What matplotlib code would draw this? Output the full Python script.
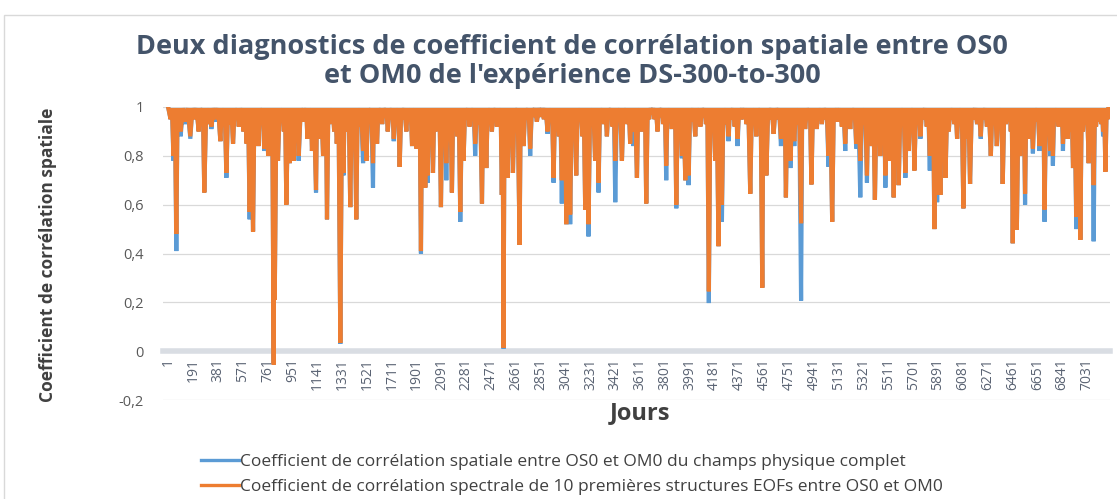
import matplotlib
matplotlib.use("Agg")
import matplotlib.pyplot as plt
from matplotlib.patches import Rectangle
from matplotlib.lines import Line2D

plt.rcParams["font.family"] = ["Open Sans", "DejaVu Sans"]

# days of the dips, with the value of each series there
dip_days = [18, 40, 62, 80, 95, 130, 169, 200, 233, 255, 276, 305, 330, 365, 399, 420, 445, 470, 496, 520,
            540, 560, 575, 600, 623, 649, 670, 690, 712, 735, 765, 785, 807, 815, 840, 865, 885, 904, 930, 945,
            960, 980, 998, 1030, 1048, 1065, 1085, 1100, 1131, 1145, 1160, 1185, 1200, 1215, 1235, 1250, 1270, 1290, 1317, 1341,
            1358, 1370, 1393, 1415, 1439, 1460, 1491, 1517, 1540, 1567, 1580, 1598, 1618, 1637, 1660, 1680, 1705, 1726, 1750, 1771,
            1795, 1822, 1845, 1866, 1880, 1899, 1915, 1934, 1950, 1967, 1985, 2005, 2026, 2045, 2065, 2087, 2105, 2128, 2150, 2171,
            2190, 2212, 2235, 2260, 2283, 2306, 2325, 2349, 2375, 2401, 2418, 2434, 2455, 2477, 2497, 2515, 2535, 2553, 2566, 2580,
            2597, 2618, 2638, 2660, 2689, 2705, 2719, 2745, 2770, 2795, 2821, 2850, 2875, 2903, 2925, 2949, 2970, 2990, 3012, 3030,
            3046, 3060, 3076, 3098, 3122, 3145, 3170, 3191, 3216, 3240, 3267, 3280, 3293, 3315, 3335, 3357, 3380, 3400, 3421, 3445,
            3472, 3495, 3515, 3535, 3560, 3587, 3605, 3624, 3640, 3658, 3680, 3701, 3722, 3744, 3770, 3790, 3811, 3830, 3854, 3870,
            3888, 3910, 3931, 3957, 3982, 4005, 4033, 4055, 4072, 4095, 4115, 4137, 4160, 4186, 4211, 4237, 4260, 4288, 4310, 4335,
            4357, 4380, 4403, 4425, 4454, 4478, 4500, 4522, 4546, 4560, 4577, 4605, 4633, 4660, 4689, 4710, 4727, 4745, 4761, 4791,
            4815, 4843, 4860, 4874, 4900, 4922, 4945, 4963, 4985, 5002, 5025, 5053, 5081, 5105, 5130, 5155, 5181, 5200, 5219, 5240,
            5265, 5296, 5320, 5347, 5365, 5385, 5408, 5430, 5449, 5470, 5488, 5510, 5526, 5552, 5570, 5590, 5615, 5641, 5667, 5690,
            5710, 5735, 5756, 5780, 5805, 5828, 5845, 5863, 5884, 5909, 5930, 5948, 5973, 5995, 6015, 6037, 6060, 6085, 6111, 6136,
            6162, 6190, 6218, 6240, 6265, 6295, 6318, 6341, 6365, 6386, 6410, 6430, 6448, 6463, 6480, 6494, 6519, 6540, 6557, 6575,
            6591, 6617, 6640, 6668, 6690, 6706, 6728, 6750, 6770, 6790, 6814, 6830, 6847, 6865, 6883, 6905, 6924, 6949, 6965, 6980,
            7000, 7020, 7044, 7062, 7082, 7100, 7121, 7140, 7154, 7172, 7190]

spectral_dips = [.95, .80, .48, .93, .90, .94, .88, .95, .90, .96, .65, .93, .92, .95, .86, .94, .73, .93, .85, .95,
                 .92, .96, .90, .85, .57, .49, .93, .84, .95, .83, .80, .94, -.055, .21, .78, .94, .90, .60, .77, .95,
                 .78, .93, .80, .94, .96, .87, .95, .82, .66, .95, .87, .80, .94, .54, .93, .95, .90, .85, .034, .73,
                 .94, .90, .59, .90, .54, .92, .82, .78, .95, .77, .93, .85, .96, .93, .96, .90, .95, .87, .94, .755,
                 .95, .90, .94, .84, .95, .83, .93, .41, .90, .67, .72, .93, .73, .90, .94, .59, .92, .77, .94, .65,
                 .93, .88, .57, .78, .95, .92, .95, .85, .93, .605, .94, .75, .95, .90, .96, .92, .95, .64, .014, .93,
                 .71, .94, .73, .95, .435, .94, .84, .95, .83, .96, .94, .96, .95, .90, .94, .71, .93, .88, .70, .90,
                 .52, .85, .56, .93, .72, .94, .88, .58, .52, .93, .78, .92, .69, .95, .93, .88, .96, .92, .78, .94,
                 .78, .95, .93, .85, .90, .71, .95, .90, .94, .605, .95, .97, .95, .90, .96, .93, .76, .94, .91, .93,
                 .60, .92, .80, .70, .72, .94, .88, .95, .92, .96, .93, .245, .92, .78, .43, .60, .93, .88, .95, .92,
                 .87, .95, .95, .93, .645, .94, .88, .95, .26, .90, .72, .95, .89, .95, .87, .93, .63, .92, .78, .86,
                 .93, .524, .93, .91, .95, .683, .93, .91, .95, .93, .95, .80, .53, .94, .94, .92, .85, .94, .91, .95,
                 .85, .78, .93, .72, .92, .84, .62, .93, .80, .94, .72, .93, .78, .63, .92, .68, .94, .73, .82, .95,
                 .74, .93, .88, .95, .92, .80, .93, .50, .64, .64, .92, .71, .90, .95, .93, .87, .94, .585, .87, .685,
                 .95, .93, .88, .95, .92, .80, .93, .84, .94, .685, .93, .94, .90, .442, .85, .497, .80, .92, .645, .93,
                 .87, .83, .94, .84, .92, .58, .93, .82, .80, .94, .92, .95, .85, .93, .87, .90, .75, .55, .85, .456,
                 .90, .93, .77, .90, .68, .92, .94, .93, .90, .735, .95]

spatial_dips = [.95, .78, .41, .93, .88, .93, .87, .95, .90, .96, .65, .93, .91, .94, .86, .94, .71, .93, .85, .95,
                .92, .96, .90, .85, .54, .49, .93, .84, .95, .82, .80, .94, -.055, .21, .78, .94, .90, .60, .77, .95,
                .78, .93, .78, .94, .96, .87, .95, .82, .65, .95, .87, .80, .94, .54, .93, .95, .90, .85, .03, .72,
                .94, .90, .59, .90, .54, .92, .77, .78, .95, .67, .93, .85, .96, .93, .96, .90, .95, .86, .94, .755,
                .95, .90, .94, .84, .95, .83, .93, .40, .90, .67, .69, .93, .73, .90, .94, .59, .92, .70, .94, .65,
                .93, .88, .53, .78, .95, .92, .95, .80, .93, .605, .94, .75, .95, .90, .96, .92, .95, .64, .01, .93,
                .71, .94, .73, .95, .435, .94, .84, .95, .80, .96, .94, .96, .95, .89, .94, .69, .93, .88, .605, .90,
                .52, .85, .52, .93, .72, .94, .88, .58, .47, .93, .78, .92, .65, .95, .93, .88, .96, .92, .61, .94,
                .78, .95, .93, .85, .84, .71, .95, .90, .94, .605, .95, .97, .95, .90, .96, .93, .70, .94, .91, .93,
                .585, .92, .79, .70, .68, .94, .88, .95, .92, .96, .93, .197, .92, .78, .43, .53, .93, .86, .95, .92,
                .84, .95, .95, .93, .645, .94, .88, .95, .26, .90, .72, .95, .89, .95, .84, .93, .63, .92, .75, .84,
                .93, .207, .93, .91, .95, .683, .93, .91, .95, .93, .95, .755, .53, .94, .94, .92, .82, .94, .91, .95,
                .83, .63, .93, .69, .92, .84, .62, .93, .80, .94, .67, .93, .78, .63, .92, .68, .94, .71, .82, .95,
                .74, .93, .87, .95, .92, .74, .93, .50, .61, .64, .92, .71, .90, .95, .93, .87, .94, .585, .87, .685,
                .95, .93, .87, .95, .92, .80, .93, .84, .94, .685, .93, .94, .90, .442, .85, .497, .80, .92, .60, .93,
                .87, .81, .94, .82, .92, .53, .93, .80, .76, .94, .92, .95, .82, .93, .87, .90, .75, .50, .85, .456,
                .90, .93, .77, .90, .45, .92, .94, .93, .88, .735, .95]

top_level = 0.995          # ceiling of the band between dips
first_day, last_day = 1, 7195

tick_days = list(range(1, 7032, 190))
ytick_values = [-0.2, 0, 0.2, 0.4, 0.6, 0.8, 1]
ytick_labels = ["-0,2", "0", "0,2", "0,4", "0,6", "0,8", "1"]

label_spatial = "Coefficient de corrélation spatiale entre OS0 et OM0 du champs physique complet"
label_spectral = "Coefficient de corrélation spectrale de 10 premières structures EOFs entre OS0 et OM0"

BLUE = "#5b9bd5"
ORANGE = "#ed7d31"

# series: a peak between each pair of dips
xs, y_spat, y_spec = [first_day], [top_level], [top_level]
for i, d in enumerate(dip_days):
    if i > 0:
        xs.append((dip_days[i - 1] + d) / 2)
        y_spat.append(top_level)
        y_spec.append(top_level)
    xs.append(d)
    y_spat.append(spatial_dips[i])
    y_spec.append(spectral_dips[i])
xs.append(last_day)
y_spat.append(top_level)
y_spec.append(top_level)

fig = plt.figure(figsize=(11.17, 4.99), dpi=100)
ax = fig.add_axes([163 / 1117, 1 - 400 / 499, (1110 - 163) / 1117, 293 / 499])

ax.plot(xs, y_spat, color=BLUE, lw=3, zorder=3, solid_joinstyle="miter")
ax.plot(xs, y_spec, color=ORANGE, lw=3, zorder=4, solid_joinstyle="miter")

ax.set_xlim(-40, 7207)
ax.set_ylim(-0.2, 1.0)

for s in ["top", "right", "left"]:
    ax.spines[s].set_visible(False)
ax.spines["bottom"].set_position(("data", 0))
ax.spines["bottom"].set_color("#d9dde3")
ax.spines["bottom"].set_linewidth(4)
ax.spines["bottom"].set_zorder(2.5)

# ticks after moving the spine (set_position resets them)
ax.set_yticks(ytick_values)
ax.set_yticklabels(ytick_labels)
ax.set_xticks(tick_days)
ax.set_xticklabels([str(d) for d in tick_days])

ax.yaxis.grid(True, color="#d9d9d9", lw=0.9)
ax.set_axisbelow(True)
ax.tick_params(axis="y", length=0, pad=14, labelsize=10.5, labelcolor="#595959")
ax.tick_params(axis="x", length=0, pad=5, labelsize=10, labelcolor="#5a6373", labelrotation=90)

fig.text(0.512, 1 - 47 / 499, "Deux diagnostics de coefficient de corrélation spatiale entre OS0",
         ha="center", va="center", fontsize=19.5, fontweight="bold", color="#44546a")
fig.text(0.512, 1 - 76 / 499, "et OM0 de l'expérience DS-300-to-300",
         ha="center", va="center", fontsize=19.5, fontweight="bold", color="#44546a")
fig.text(48 / 1117, 1 - 255 / 499, "Coefficient de corrélation spatiale", rotation=90,
         ha="center", va="center", fontsize=12.5, fontweight="bold", color="#404040")
fig.text(640 / 1117, 1 - 413 / 499, "Jours", ha="center", va="center",
         fontsize=17, fontweight="bold", color="#404040")

handles = [Line2D([], [], color=BLUE, lw=2.4), Line2D([], [], color=ORANGE, lw=2.4)]
fig.legend(handles, [label_spatial, label_spectral], loc="upper left",
           bbox_to_anchor=(192 / 1117, 1 - 445 / 499), frameon=False, fontsize=12.5,
           handlelength=2.2, handletextpad=0.05, labelspacing=0.5, borderpad=0,
           labelcolor="#404040")

fig.add_artist(Rectangle((4 / 1117, -0.05), 1.2, 1.05 - 15 / 499, transform=fig.transFigure,
                         fill=False, edgecolor="#d9d9d9", lw=1))

fig.savefig("out.png", dpi=100)
